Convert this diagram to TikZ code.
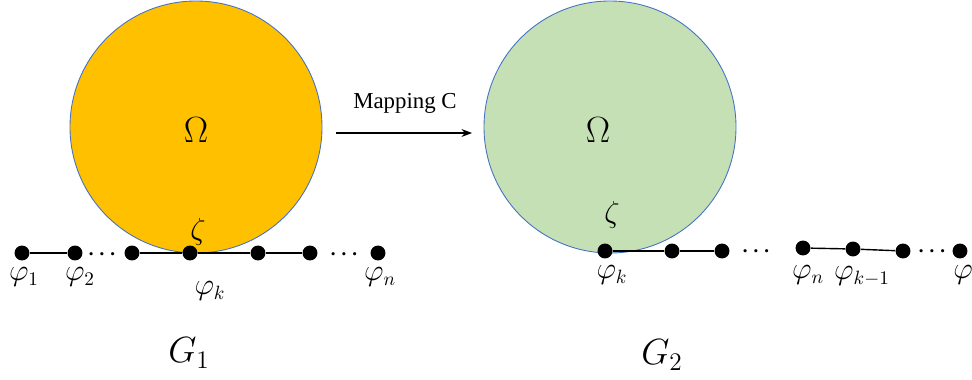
\documentclass[tikz,border=0pt]{standalone}
\usepackage{amsmath,amssymb}
\usepackage{fontspec}
\setmainfont{Liberation Serif}
\usepackage{tikz}
\usetikzlibrary{
  arrows.meta,
  positioning
}
\definecolor{omegaorange}{HTML}{FFC000}
\definecolor{omegagreen}{HTML}{C5E0B4}
\definecolor{rimblue}{HTML}{4472C4}

\tikzset{
  vertex/.style={circle, fill=black, inner sep=0pt, minimum size=8.5pt},
  chain/.style={line width=0.8pt},
  lbl/.style={font=\fontsize{16}{18}\selectfont},
  ellip/.style={font=\fontsize{12}{14}\selectfont\boldmath},
  blob/.style={draw=rimblue, line width=0.5pt}
}

\begin{document}
\begin{tikzpicture}[x=0.02cm, y=-0.02cm]
    \useasboundingbox (0,0) rectangle (972,379);

    % Domain Omega before the mapping (orange disc)
    \fill[omegaorange, blob] (196,127) circle (126);
    \node[font=\fontsize{20}{22}\selectfont] (omA) at (196,130) {$\Omega$};

    % Domain Omega after the mapping (green disc)
    \fill[omegagreen, blob] (610,127) circle (126);
    \node[font=\fontsize{20}{22}\selectfont] (omB) at (598,130) {$\Omega$};

    % Mapping arrow
    \coordinate (mapS) at (336,133);
    \coordinate (mapE) at (472,133);
    \draw[-{Stealth[length=6pt]}, line width=0.6pt] (mapS) -- (mapE);
    \node[font=\fontsize{13}{15}\selectfont] (maplbl) at (405,103) {Mapping C};

    % Chain G1
    \node[vertex] (a1) at (22,253) {};
    \node[vertex] (a2) at (75,253) {};
    \node[vertex] (a3) at (132,253) {};
    \node[vertex] (ak) at (190,253) {};
    \node[vertex] (a5) at (258,253) {};
    \node[vertex] (a6) at (310,253) {};
    \node[vertex] (an) at (378,253) {};
    \draw[chain] (a1) -- (a2);
    \draw[chain] (a3) -- (ak) -- (a5) -- (a6);
    \node[ellip] (d1) at (104,254) {$\cdots$};
    \node[ellip] (d2) at (346,254) {$\cdots$};

    \node[lbl] (la1) at (24,277) {$\varphi_1$};
    \node[lbl] (la2) at (80,277) {$\varphi_2$};
    \node[lbl] (lak) at (210,291) {$\varphi_k$};
    \node[lbl] (lan) at (380,277) {$\varphi_n$};
    \node[font=\fontsize{16}{18}\selectfont] (zA) at (198,232) {$\zeta$};

    % Chain G2
    \node[vertex] (b1) at (605,251) {};
    \node[vertex] (b2) at (672,251) {};
    \node[vertex] (b3) at (722,251) {};
    \node[vertex] (bn) at (803,248) {};
    \node[vertex] (bk) at (853,249) {};
    \node[vertex] (b6) at (903,251) {};
    \node[vertex] (b7) at (960,251) {};
    \draw[chain] (b1) -- (b2) -- (b3);
    \draw[chain] (bn) -- (bk) -- (b6);
    \node[ellip] (d3) at (758,252) {$\cdots$};
    \node[ellip] (d4) at (934,252) {$\cdots$};

    \node[lbl] (lb1) at (612,275) {$\varphi_k$};
    \node[lbl] (lbn) at (808,275) {$\varphi_n$};
    \node[lbl] (lbk) at (862,276) {$\varphi_{k-1}$};
    \node[lbl] (lb7) at (963,275) {$\varphi$};
    \node[font=\fontsize{16}{18}\selectfont] (zB) at (612,215) {$\zeta$};

    % Graph names
    \node[font=\fontsize{21}{23}\selectfont] (g1) at (189,353) {$G_1$};
    \node[font=\fontsize{21}{23}\selectfont] (g2) at (662,355) {$G_2$};
\end{tikzpicture}
\end{document}
